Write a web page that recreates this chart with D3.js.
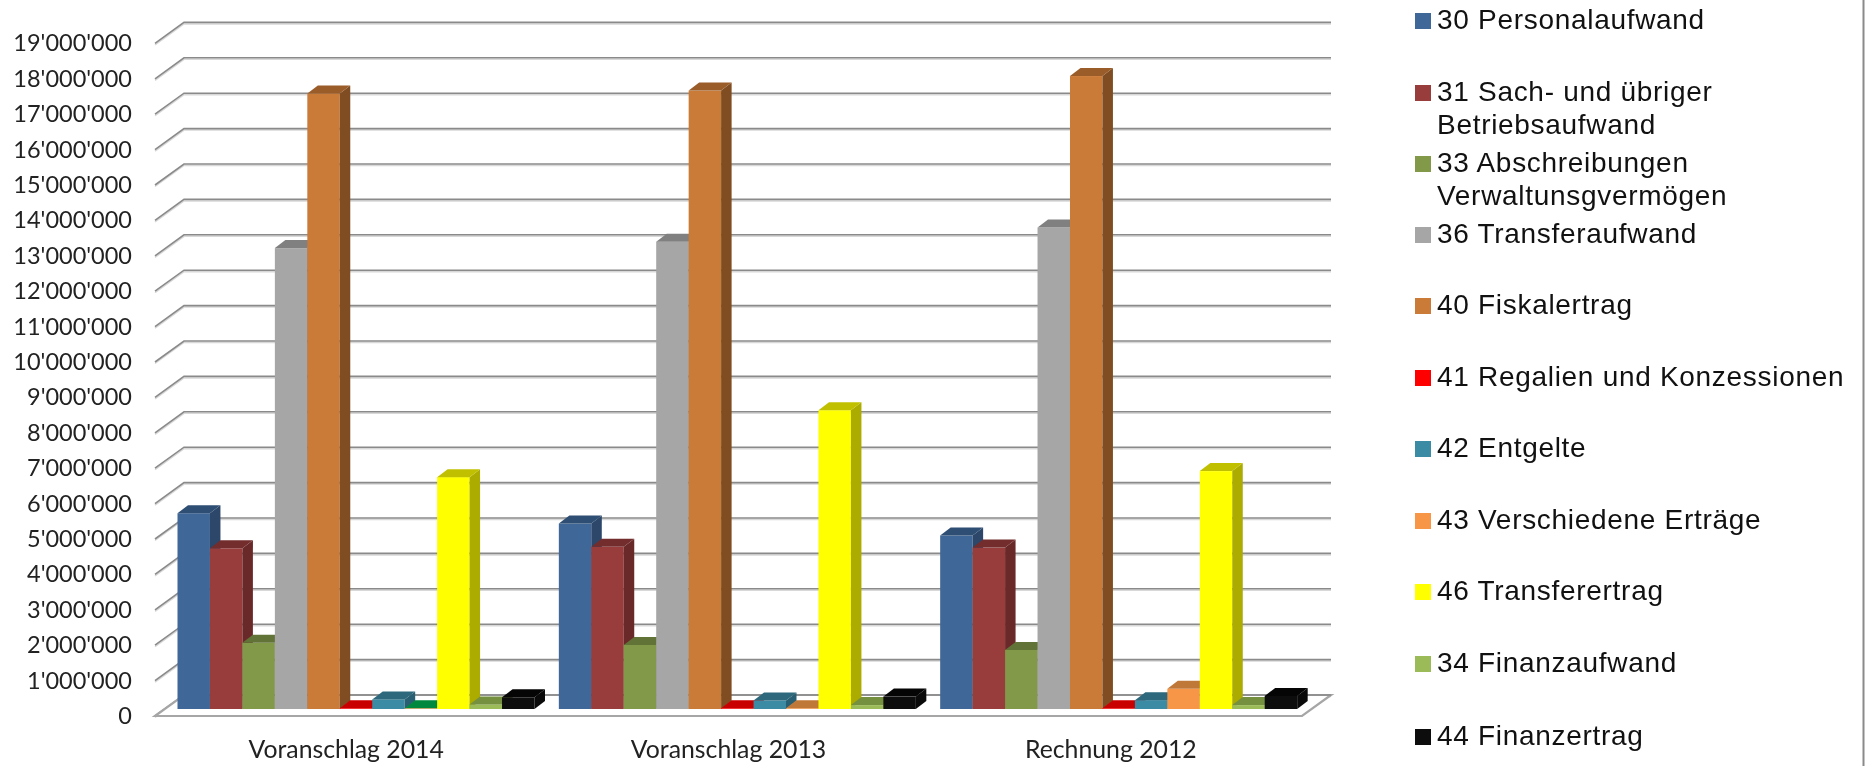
<!DOCTYPE html>
<html>
<head>
<meta charset="utf-8">
<script src="https://cdnjs.cloudflare.com/ajax/libs/d3/7.8.5/d3.min.js"></script>
<style>
  html, body { margin: 0; padding: 0; background: #fff; }
  svg { display: block; filter: blur(0.45px); }
</style>
</head>
<body>
<div id="chart"></div>
<script>
var categories = ["Voranschlag 2014", "Voranschlag 2013", "Rechnung 2012"];
var seriesNames = [
    ["30 Personalaufwand"],
    ["31 Sach- und übriger", "Betriebsaufwand"],
    ["33 Abschreibungen", "Verwaltunsgvermögen"],
    ["36 Transferaufwand"],
    ["40 Fiskalertrag"],
    ["41 Regalien und Konzessionen"],
    ["42 Entgelte"],
    ["43 Verschiedene Erträge"],
    ["46 Transferertrag"],
    ["34 Finanzaufwand"],
    ["44 Finanzertrag"]
];
var v30 = [5530000, 5240000, 4900000];
var v31 = [4540000, 4580000, 4560000];
var v33 = [1870000, 1810000, 1670000];
var v36 = [13020000, 13200000, 13600000];
var v40 = [17390000, 17470000, 17880000];
var v41 = [20000, 20000, 20000];
var v42 = [270000, 240000, 250000];
var v43 = [20000, 20000, 570000];
var v46 = [6550000, 8440000, 6720000];
var v34 = [130000, 110000, 110000];
var v44 = [330000, 350000, 370000];
var seriesValues = [v30, v31, v33, v36, v40, v41, v42, v43, v46, v34, v44];
var seriesColors = ["#3f6797", "#983c3c", "#83994a", "#a6a6a6", "#cb7b38", "#ff0000",
                    "#3b8ba5", "#f79646", "#ffff00", "#9bbb59", "#0d0d0d"];
var topColors = ["#2f4e73", "#732d2d", "#627338", "#808080", "#9a5d2a", "#c80000",
                 "#2d687c", "#c07838", "#c0c000", "#75903f", "#050505"];
var sideColors = ["#2c476a", "#6a2929", "#5b6a33", "#737373", "#7f4d21", "#b00000",
                  "#295f72", "#ab6830", "#abab00", "#6b8239", "#0a0a0a"];
var tickValues = d3.range(0, 19000001, 1000000);

const width = 1865;
const height = 766;

var depthX = 29, depthY = 21;      // floor depth
var barDX = 10.5, barDY = 8;       // bar depth
var baseY = 695, topY = 22.4;      // gridlines on the back wall
var left = 155, right = 1302, floorY = 716;

var swiss = d3.formatLocale({ decimal: ".", thousands: "'", grouping: [3], currency: ["", ""] }).format(",");

var svg = d3.select("#chart")
    .append("svg")
    .attr("width", width)
    .attr("height", height);

var yBack = d3.scaleLinear().domain([0, 19000000]).range([baseY, topY]);
var yFront = d3.scaleLinear().domain([0, 19000000]).range([baseY + depthY, topY + depthY]);
var yBar = d3.scaleLinear().domain([0, 19000000]).range([709, 709 - (baseY - topY)]);
var x0 = d3.scaleBand().domain(categories).range([left, right]);
var xBars = d3.scaleBand().domain(categories).range([left, right - 3]);
var x1 = d3.scaleBand().domain(d3.range(seriesNames.length)).range([22.5, 379.5]);

// frame edge at the right of the picture
svg.append("line")
    .attr("x1", 1863.5).attr("x2", 1863.5)
    .attr("y1", 0).attr("y2", height)
    .attr("stroke", "#8a8a8a")
    .attr("stroke-width", 2);

// gridlines with their small shadow
var grid = svg.append("g");
grid.selectAll("path.shadow")
    .data(tickValues)
    .enter()
    .append("path")
    .attr("class", "shadow")
    .attr("fill", "none")
    .attr("stroke", "#d8d8d8")
    .attr("stroke-width", 1.5)
    .attr("d", function (d) {
        return "M" + left + "," + (yFront(d) + 1.5) + "L" + (left + depthX) + "," + (yBack(d) + 1.5) + "H" + (right + depthX);
    });
grid.selectAll("path.line")
    .data(tickValues)
    .enter()
    .append("path")
    .attr("class", "line")
    .attr("fill", "none")
    .attr("stroke", "#8a8a8a")
    .attr("stroke-width", 1.6)
    .attr("d", function (d) {
        return "M" + left + "," + yFront(d) + "L" + (left + depthX) + "," + yBack(d) + "H" + (right + depthX);
    });

// floor
grid.append("path")
    .attr("fill", "#fff")
    .attr("stroke", "#a6a6a6")
    .attr("stroke-width", 2.2)
    .attr("d", "M" + left + "," + floorY + "L" + (left + depthX) + "," + baseY + "H" + (right + depthX) + "L" + right + "," + floorY + "Z");
grid.append("path")
    .attr("fill", "none")
    .attr("stroke", "#8a8a8a")
    .attr("stroke-width", 1.6)
    .attr("d", "M" + (left + depthX) + "," + baseY + "H" + (right + depthX));

// bars, drawn left to right so each front covers the side before it
var groups = svg.selectAll("g.group")
    .data(categories)
    .enter()
    .append("g")
    .attr("class", "group")
    .attr("transform", function (d) { return "translate(" + xBars(d) + ",0)"; });

var bars = groups.selectAll("g.bar")
    .data(function (d, c) {
        return seriesValues.map(function (vals, s) { return { s: s, c: c, v: vals[c] }; });
    })
    .enter()
    .append("g")
    .attr("class", "bar");

function barTop(d) {
    // 43 Verschiedene Ertraege is dark green in the first group
    if (d.s === 7 && d.c === 0) return "#00883e";
    return topColors[d.s];
}

bars.append("rect")
    .attr("x", function (d) { return x1(d.s); })
    .attr("y", function (d) { return yBar(d.v); })
    .attr("width", x1.bandwidth())
    .attr("height", function (d) { return yBar(0) - yBar(d.v); })
    .attr("fill", function (d) { return seriesColors[d.s]; });

bars.append("path")
    .attr("fill", function (d) { return sideColors[d.s]; })
    .attr("d", function (d) {
        var xr = x1(d.s) + x1.bandwidth();
        return "M" + xr + "," + yBar(d.v) + "l" + barDX + "," + (-barDY) + "V" + (yBar(0) - barDY) + "l" + (-barDX) + "," + barDY + "Z";
    });

bars.append("path")
    .attr("fill", barTop)
    .attr("d", function (d) {
        var xl = x1(d.s), w = x1.bandwidth();
        return "M" + xl + "," + yBar(d.v) + "l" + barDX + "," + (-barDY) + "h" + w + "l" + (-barDX) + "," + barDY + "Z";
    });

// axes
var yAxis = d3.axisLeft(yFront)
    .tickValues(tickValues)
    .tickFormat(swiss)
    .tickSize(0)
    .tickPadding(0);
var yG = svg.append("g").attr("transform", "translate(132,0)").call(yAxis);
yG.select(".domain").remove();
yG.selectAll("text")
    .attr("font-family", "Lato")
    .attr("font-size", 23.5)
    .attr("fill", "#222");

var xAxis = d3.axisBottom(x0).tickSize(0).tickPadding(0);
var xG = svg.append("g").attr("transform", "translate(0,740)").call(xAxis);
xG.select(".domain").remove();
xG.selectAll("text")
    .attr("font-family", "Lato")
    .attr("font-size", 24.8)
    .attr("fill", "#222");

// legend
var legendY = [21, 93, 164, 235, 306, 378, 449, 521, 592, 664, 737];
var legend = svg.selectAll("g.legend")
    .data(seriesNames)
    .enter()
    .append("g")
    .attr("class", "legend")
    .attr("transform", function (d, i) { return "translate(1415," + legendY[i] + ")"; });

legend.append("rect")
    .attr("y", -8)
    .attr("width", 16)
    .attr("height", 16)
    .attr("fill", function (d, i) { return seriesColors[i]; });

legend.append("text")
    .attr("font-family", "Liberation Sans")
    .attr("font-size", 28)
    .attr("letter-spacing", 0.7)
    .attr("fill", "#111")
    .selectAll("tspan")
    .data(function (d) { return d; })
    .enter()
    .append("tspan")
    .attr("x", 22)
    .attr("y", function (d, i) { return 8 + i * 33; })
    .text(function (d) { return d; });
</script>
</body>
</html>
